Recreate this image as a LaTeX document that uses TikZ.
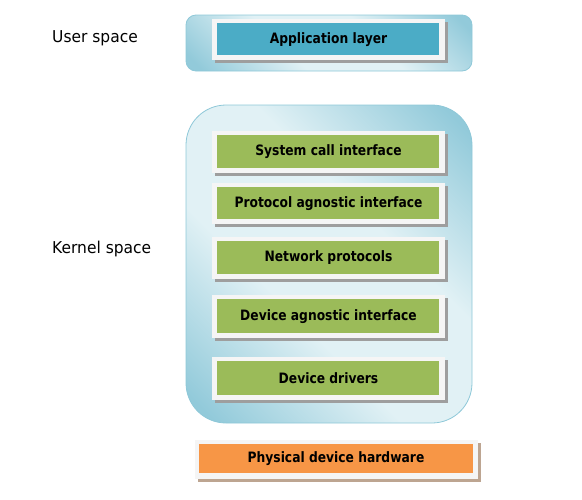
\documentclass[tikz,border=0pt]{standalone}
\usepackage{fontspec}
\setmainfont{DejaVu Sans}[FakeStretch=0.86]
\newfontfamily\lblfont{DejaVu Sans}[FakeStretch=0.95]
\definecolor{teal1}{HTML}{4BACC6}
\definecolor{green1}{HTML}{9BBB59}
\definecolor{orange1}{HTML}{F79646}
\definecolor{lightblue}{HTML}{E1F1F5}
\definecolor{darkblue}{HTML}{92CADA}
\definecolor{borderblue}{HTML}{8EC8D8}
\pgfdeclareverticalshading{band}{100bp}{color(0bp)=(darkblue); color(18bp)=(darkblue); color(40bp)=(lightblue); color(60bp)=(lightblue); color(82bp)=(darkblue); color(100bp)=(darkblue)}
\tikzset{
  frame/.style={fill=white!96!black, draw=none},
  layer/.style={font=\bfseries\fontsize{14.3}{17}\selectfont, text=black, inner sep=0pt},
  shadowbox/.style={fill=black!38, draw=none},
  space/.style={draw=borderblue, line width=0.8pt, shading=band, shading angle=-45},
  lbl/.style={font=\lblfont\fontsize{16.3}{19}\selectfont, anchor=west, inner sep=0pt}
}
\newcommand{\layerbox}[7]{% name, x1,y1,x2,y2, color, text
  \fill[shadowbox] (#2+3,#3+3) rectangle (#4+3,#5+3);
  \fill[frame] (#2,#3) rectangle (#4,#5);
  \fill[#6] (#2+5,#3+4) rectangle (#4-6,#5-5);
  \node[layer] (#1) at ({(#2+#4)/2},{(#3+#5)/2}) {#7};
}
\begin{document}
\begin{tikzpicture}[x=1pt,y=-1pt]
\useasboundingbox (0,0) rectangle (582,499);
% user space box
\shade[space, rounded corners=10pt] (186,15) rectangle (472,71);
\node[lbl] (us) at (52,38) {User space};
\layerbox{app}{212}{19}{445}{60}{teal1}{Application layer}
% kernel space box
\shade[space, rounded corners=40pt] (186,105) rectangle (472,423);
\node[lbl] (ks) at (52,249) {Kernel space};
\layerbox{sci}{212}{131}{445}{173}{green1}{System call interface}
\layerbox{pai}{212}{183}{445}{224}{green1}{Protocol agnostic interface}
\layerbox{np}{212}{237}{445}{279}{green1}{Network protocols}
\layerbox{dai}{212}{295}{445}{338}{green1}{Device agnostic interface}
\layerbox{dd}{212}{357}{445}{400}{green1}{Device drivers}
% physical
\fill[fill=orange1!50!black!50] (198,443) rectangle (481,482);
\fill[frame] (195,440) rectangle (478,479);
\fill[orange1] (199,444) rectangle (473,473);
\node[layer] (phy) at (336,459) {Physical device hardware};
\end{tikzpicture}
\end{document}
